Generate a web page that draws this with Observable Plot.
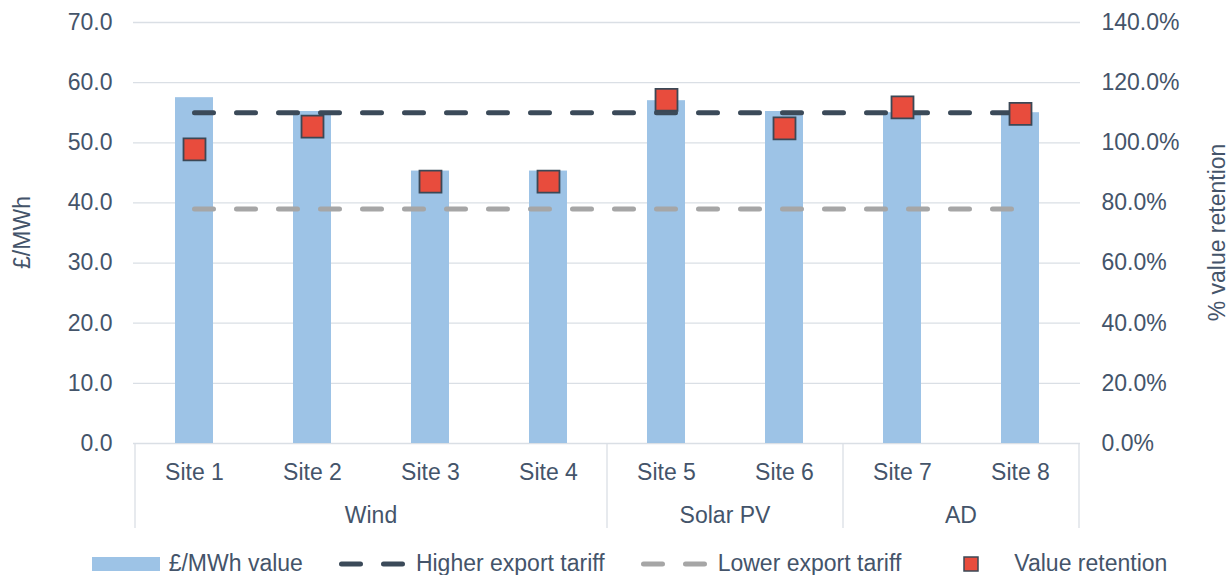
<!DOCTYPE html>
<html><head><meta charset="utf-8">
<script src="https://cdn.jsdelivr.net/npm/d3@7"></script>
<script src="https://cdn.jsdelivr.net/npm/@observablehq/plot@0.6"></script>
<style>
body{margin:0;background:#fff;font-family:"Liberation Sans",Arial,sans-serif;color:#44546A;}
#legend{display:flex;align-items:center;justify-content:center;height:37px;padding-top:14px;font-size:23px;padding-left:28px;box-sizing:border-box;width:1231px;}
.item{display:flex;align-items:center;margin:0 18px;white-space:nowrap;}
.item svg{margin-right:9px;}
</style></head><body><div id="chart"></div><div id="legend"></div>
<script>
// ---- data ----
const sites = ["Site 1","Site 2","Site 3","Site 4","Site 5","Site 6","Site 7","Site 8"];
const technologies = ["Wind","Wind","Wind","Wind","Solar PV","Solar PV","AD","AD"];
const valueMWh = [57.5, 55.2, 45.3, 45.3, 57.0, 55.2, 55.0, 55.0];
const valueRetention = [97.8, 105.4, 87.1, 87.1, 114.3, 104.8, 111.8, 109.6];
const higherExportTariff = 55.0;
const lowerExportTariff = 39.0;
const leftTicks = [0, 10, 20, 30, 40, 50, 60, 70];
const rightTicks = [0, 20, 40, 60, 80, 100, 120, 140];
const seriesNames = ["£/MWh value", "Higher export tariff", "Lower export tariff", "Value retention"];
const leftTitle = "£/MWh";
const rightTitle = "% value retention";

// ---- styles ----
const textColor = "#44546A";
const barColor = "#9DC3E6";
const darkDash = "#3B4A59";
const greyDash = "#A6A6A6";
const squareFill = "#E84C3D";
const squareStroke = "#3B4856";
const gridColor = "#DADFE5";
const FS = 23;

const ratio = rightTicks[rightTicks.length-1] / leftTicks[leftTicks.length-1];
const rows = sites.map((s, i) => ({site: s, tech: technologies[i], value: valueMWh[i], retention: valueRetention[i]}));
const higherRows = sites.map(s => ({site: s, v: higherExportTariff}));
const lowerRows = sites.map(s => ({site: s, v: lowerExportTariff}));

function groupAxis(index, scales, values, dimensions) {
  const x = scales.x;
  const step = x.step();
  const off = (step - x.bandwidth()) / 2;
  const y0 = dimensions.height - dimensions.marginBottom;
  const g = d3.create("svg:g");
  const groups = [];
  technologies.forEach((t, i) => {
    const last = groups[groups.length - 1];
    if (last && last.name === t) last.end = i; else groups.push({name: t, start: i, end: i});
  });
  const boundary = i => i < sites.length ? x(sites[i]) - off : x(sites[sites.length-1]) - off + step;
  const bset = new Set();
  groups.forEach(gr => { bset.add(gr.start); bset.add(gr.end + 1); });
  for (const b of bset) {
    g.append("line").attr("x1", boundary(b)).attr("x2", boundary(b))
      .attr("y1", y0).attr("y2", y0 + 85).attr("stroke", gridColor).attr("stroke-width", 1.3);
  }
  for (const gr of groups) {
    g.append("text").attr("x", (boundary(gr.start) + boundary(gr.end + 1)) / 2).attr("y", y0 + 80)
      .attr("text-anchor", "middle").attr("fill", textColor).attr("font-size", FS).text(gr.name);
  }
  const midY = (dimensions.marginTop + y0) / 2;
  g.append("text").attr("transform", `translate(22,${midY}) rotate(-90)`).attr("dy", "0.35em")
    .attr("text-anchor", "middle").attr("fill", textColor).attr("font-size", FS).text(leftTitle);
  g.append("text").attr("transform", `translate(${dimensions.width - 14},${midY}) rotate(-90)`).attr("dy", "0.35em")
    .attr("text-anchor", "middle").attr("fill", textColor).attr("font-size", FS).text(rightTitle);
  return g.node();
}

const plot = Plot.plot({
  width: 1231,
  height: 538,
  marginLeft: 133,
  marginRight: 151,
  marginTop: 22,
  marginBottom: 95,
  style: {fontFamily: '"Liberation Sans", Arial, sans-serif', fontSize: FS + "px", color: textColor, background: "white"},
  x: {domain: sites, paddingInner: 0.68, paddingOuter: 0.34},
  y: {domain: [0, leftTicks[leftTicks.length-1]]},
  marks: [
    Plot.gridY(leftTicks, {stroke: gridColor, strokeOpacity: 1, strokeWidth: 1.3}),
    Plot.barY(rows, {x: "site", y: "value", fill: barColor}),
    Plot.lineY(lowerRows, {x: "site", y: "v", stroke: greyDash, strokeWidth: 5, strokeDasharray: "19,23", strokeLinecap: "round"}),
    Plot.lineY(higherRows, {x: "site", y: "v", stroke: darkDash, strokeWidth: 5, strokeDasharray: "19,23", strokeLinecap: "round"}),
    Plot.dot(rows, {x: "site", y: d => d.retention / ratio, symbol: "square", r: 12.4, fill: squareFill, stroke: squareStroke, strokeWidth: 1.8}),
    Plot.axisY({ticks: leftTicks, tickFormat: d => d.toFixed(1), tickSize: 0, tickPadding: 21, label: null, fontSize: FS}),
    Plot.axisY({anchor: "right", ticks: rightTicks.map(v => v / ratio), tickFormat: d => (d * ratio).toFixed(1) + "%", tickSize: 0, tickPadding: 21, label: null, fontSize: FS}),
    Plot.axisX({tickSize: 0, tickPadding: 20, label: null, fontSize: FS}),
    groupAxis
  ]
});
document.getElementById("chart").appendChild(plot);

// ---- legend ----
const legend = d3.select("#legend");
function item(name, draw) {
  const it = legend.append("div").attr("class", "item");
  const s = it.append("svg").attr("width", 68).attr("height", 16);
  draw(s);
  it.append("span").text(name);
}
item(seriesNames[0], s => s.append("rect").attr("x", 0).attr("y", 1).attr("width", 68).attr("height", 14).attr("fill", barColor));
item(seriesNames[1], s => s.append("line").attr("x1", 2.5).attr("x2", 66).attr("y1", 8).attr("y2", 8).attr("stroke", darkDash).attr("stroke-width", 5).attr("stroke-dasharray", "19,23").attr("stroke-linecap", "round"));
item(seriesNames[2], s => s.append("line").attr("x1", 2.5).attr("x2", 66).attr("y1", 8).attr("y2", 8).attr("stroke", greyDash).attr("stroke-width", 5).attr("stroke-dasharray", "19,23").attr("stroke-linecap", "round"));
item(seriesNames[3], s => s.append("rect").attr("x", 27).attr("y", 1).attr("width", 14).attr("height", 14).attr("fill", squareFill).attr("stroke", squareStroke).attr("stroke-width", 1.5));
</script></body></html>
